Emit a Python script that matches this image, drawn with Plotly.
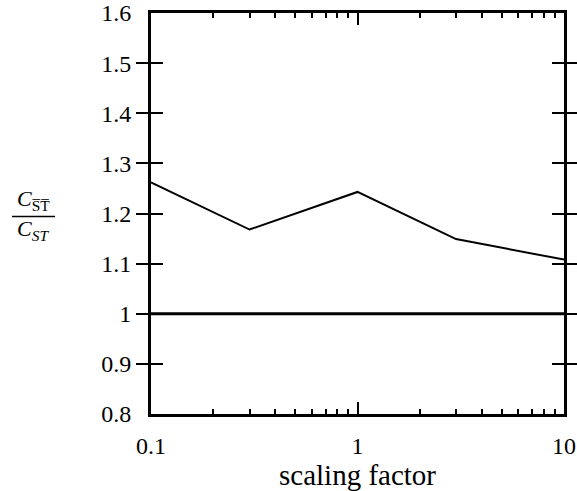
import plotly.graph_objects as go

x_vals = [0.1, 0.3, 1, 3, 10]
ratio = [1.262, 1.168, 1.243, 1.149, 1.108]
baseline_x = [0.1, 10]
baseline_y = [1.0, 1.0]
y_ticks = [0.8, 0.9, 1.0, 1.1, 1.2, 1.3, 1.4, 1.5, 1.6]
y_ticktext = ["0.8", "0.9", "1", "1.1", "1.2", "1.3", "1.4", "1.5", "1.6"]
x_ticks = [0.1, 1, 10]
x_ticktext = ["0.1", "1", "10"]
x_minor = [0.2, 0.3, 0.4, 0.5, 0.6, 0.7, 0.8, 0.9, 2, 3, 4, 5, 6, 7, 8, 9]

FONT = "Liberation Serif"
FS = 24

fig = go.Figure()
fig.add_trace(go.Scatter(x=baseline_x, y=baseline_y, mode="lines", xaxis="x2",
                         line=dict(color="black", width=3), showlegend=False))
fig.add_trace(go.Scatter(x=x_vals, y=ratio, mode="lines",
                         line=dict(color="black", width=2), showlegend=False))

W, H = 577, 491
L, R, T, B = 151, 13, 13, 76
PW, PH = W - L - R, H - T - B


def px(x):
    return (x - L) / PW


def py(y):
    return (H - B - y) / PH


common_x = dict(type="log", range=[-1, 1], tickvals=x_ticks,
                ticks="inside", ticklen=12, tickwidth=2, tickcolor="black",
                showline=True, linewidth=3, linecolor="black",
                showgrid=False, zeroline=False,
                minor=dict(ticks="inside", ticklen=5, tickwidth=2, tickcolor="black",
                           tickmode="array", tickvals=x_minor, showgrid=False))

fig.update_layout(
    width=W, height=H,
    margin=dict(l=L, r=R, t=T, b=B),
    paper_bgcolor="white", plot_bgcolor="white",
    font=dict(family=FONT, size=FS, color="black"),
    xaxis=dict(**common_x, ticktext=x_ticktext, ticklabelstandoff=8,
               automargin="bottom",
               tickfont=dict(family=FONT, size=FS, color="black"),
               title=dict(text="scaling factor", standoff=0)),
    xaxis2=dict(**common_x, overlaying="x", side="top", anchor="y",
                showticklabels=False, automargin=False),
    yaxis=dict(range=[0.8, 1.6], tickvals=y_ticks, ticktext=y_ticktext,
               tickfont=dict(family=FONT, size=FS, color="black"),
               ticks="inside", ticklen=12, tickwidth=2, tickcolor="black",
               showline=True, linewidth=3, linecolor="black", mirror="allticks",
               showgrid=False, zeroline=False, ticklabelstandoff=12,
               automargin="left+right"),
)

# y-axis label as fraction
fig.add_annotation(x=px(33), y=py(200), xref="paper", yref="paper",
                   text="<i>C</i><sub>S\u0305T\u0305</sub>", showarrow=False,
                   font=dict(size=22), xanchor="center", yanchor="middle")
fig.add_annotation(x=px(33), y=py(231), xref="paper", yref="paper",
                   text="<i>C</i><sub><i>ST</i></sub>", showarrow=False,
                   font=dict(size=22), xanchor="center", yanchor="middle")
fig.add_shape(type="line", xref="paper", yref="paper",
              x0=px(12), x1=px(55), y0=py(217), y1=py(217),
              line=dict(color="black", width=1.5))

post = (
    "var gd=document.getElementById('{plot_id}');"
    "function rr(){ if(window.Plotly && Plotly.redraw){ Plotly.redraw(gd); } }"
    "rr();"
    "if(document.fonts && document.fonts.ready){ document.fonts.ready.then(rr); }"
    "setTimeout(rr, 60);"
)

fig.write_html("out.html", post_script=post)
